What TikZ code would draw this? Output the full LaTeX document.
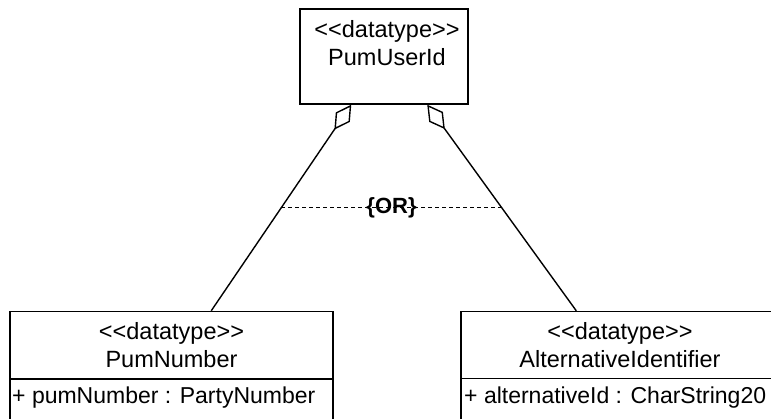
\documentclass[tikz,border=0pt]{standalone}
\usepackage{fontspec}
\setmainfont{Liberation Sans}
\usetikzlibrary{arrows.meta,calc}
\newcommand{\stereo}[1]{<\kern0pt<#1>\kern0pt>}
\begin{document}
\begin{tikzpicture}[x=1pt,y=-1pt,
  umlbox/.style={draw=black,line width=1.5pt,fill=none,inner sep=0pt},
  txt/.style={inner sep=0pt,anchor=base,font=\fontsize{23.5}{28}\selectfont},
  attr/.style={inner sep=0pt,anchor=base west,font=\fontsize{23}{28}\selectfont},
  agg/.style={line width=1.4pt,{Diamond[open,length=30pt,width=17pt,line width=1.4pt]}-},
  orline/.style={line width=1.5pt,dash pattern=on 4pt off 3pt}]
\useasboundingbox (0,0) rectangle (771,419);
\clip (0,0) rectangle (771,419);
\fill[white] (0,0) rectangle (771,419);
% boxes
\node[umlbox,minimum width=168pt,minimum height=95pt] (uid) at (384,56.5) {};
\node[umlbox,minimum width=323pt,minimum height=140pt] (pn) at (171.5,381.5) {};
\node[umlbox,minimum width=319pt,minimum height=140pt] (ai) at (620.5,381.5) {};
% separators
\coordinate (pnsepL) at ([yshift=-68.5pt]pn.north west);
\coordinate (pnsepR) at ([yshift=-68.5pt]pn.north east);
\coordinate (aisepL) at ([yshift=-68pt]ai.north west);
\coordinate (aisepR) at ([yshift=-68pt]ai.north east);
\draw[line width=1.5pt] (pnsepL) -- (pnsepR);
\draw[line width=1.5pt] (aisepL) -- (aisepR);
% texts
\node[txt] (uidst) at (387,38) {\stereo{datatype}};
\node[txt] (uidnm) at (387,66) {PumUserId};
\node[txt] (pnst) at (171.5,339.5) {\stereo{datatype}};
\node[txt] (pnnm) at (171.5,367.5) {PumNumber};
\node[attr] (pnat) at (12,403) {+ pumNumber : PartyNumber};
\node[txt] (aist) at (620,339.5) {\stereo{datatype}};
\node[txt] (ainm) at (620,367.5) {AlternativeIdentifier};
\node[attr] (aiat) at (464,403) {+ alternativeId : CharString20};
% connector end points
\coordinate (u1) at ([xshift=52pt]uid.south west);
\coordinate (u2) at ([xshift=128pt]uid.south west);
\coordinate (p1) at ([xshift=202pt]pn.north west);
\coordinate (a1) at ([xshift=116pt]ai.north west);
% aggregations
\draw[agg] (u1) -- coordinate[pos=0.5] (m1) (p1);
\draw[agg] (u2) -- coordinate[pos=0.5] (m2) (a1);
% OR constraint
\draw[orline] (m1) -- (m2);
\node[inner sep=0pt,font=\fontsize{22}{26}\selectfont\bfseries] (orlbl) at ($(m1)!0.5!(m2)$) {\{OR\}};
\end{tikzpicture}
\end{document}
